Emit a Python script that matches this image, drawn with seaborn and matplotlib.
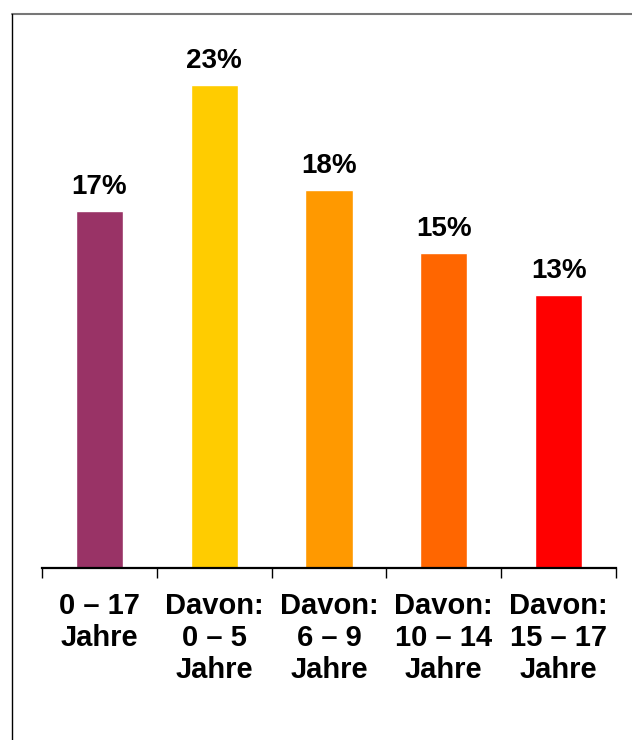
import matplotlib.pyplot as plt
import seaborn as sns
import pandas as pd
from matplotlib.lines import Line2D

# values
categories = ["0 – 17\nJahre", "Davon:\n0 – 5\nJahre", "Davon:\n6 – 9\nJahre",
              "Davon:\n10 – 14\nJahre", "Davon:\n15 – 17\nJahre"]
shares = [17, 23, 18, 15, 13]
colors = ["#993366", "#FFCC00", "#FF9900", "#FF6600", "#FF0000"]

df = pd.DataFrame({"group": categories, "share": shares})

sns.set_style("white")
plt.rcParams["font.family"] = ["Liberation Sans", "DejaVu Sans"]
plt.rcParams["text.color"] = "black"
plt.rcParams["xtick.color"] = "black"
plt.rcParams["xtick.labelcolor"] = "black"

fig = plt.figure(figsize=(6.32, 7.4), dpi=100)
ax = fig.add_axes([42 / 632, 1 - 568 / 740, 574 / 632, 554 / 740])

sns.barplot(data=df, x="group", y="share", hue="group", palette=colors,
            legend=False, width=0.41, saturation=1, ax=ax)

for cont in ax.containers:
    ax.bar_label(cont, fmt="%d%%", padding=8, fontsize=20, fontweight="bold",
                 color="black")

ax.set_xlim(-0.5, 4.5)
ax.set_ylim(0, 26.4)
ax.set_xlabel("")
ax.set_ylabel("")
ax.set_yticks([])

# ticks sit between the categories, labels under the bars
ax.set_xticks([i - 0.5 for i in range(len(categories) + 1)])
ax.set_xticklabels([])
ax.set_xticks(range(len(categories)), minor=True)
ax.set_xticklabels(categories, minor=True, fontsize=21, fontweight="bold",
                   linespacing=1.2, color="black")
ax.tick_params(axis="x", which="major", bottom=True, direction="out",
               length=7.5, width=1, color="black")
ax.tick_params(axis="x", which="minor", bottom=True, length=0, pad=17)

for side in ["left", "right", "top"]:
    ax.spines[side].set_visible(False)
ax.spines["bottom"].set_color("black")
ax.spines["bottom"].set_linewidth(1.6)

# outer frame lines of the original picture
fig.add_artist(Line2D([12 / 632, 1], [1 - 14 / 740, 1 - 14 / 740],
                      transform=fig.transFigure, color="#777777", lw=1.5))
fig.add_artist(Line2D([12 / 632, 12 / 632], [0, 1 - 14 / 740],
                      transform=fig.transFigure, color="black", lw=1))

plt.savefig("out.png", dpi=100)
plt.close()
